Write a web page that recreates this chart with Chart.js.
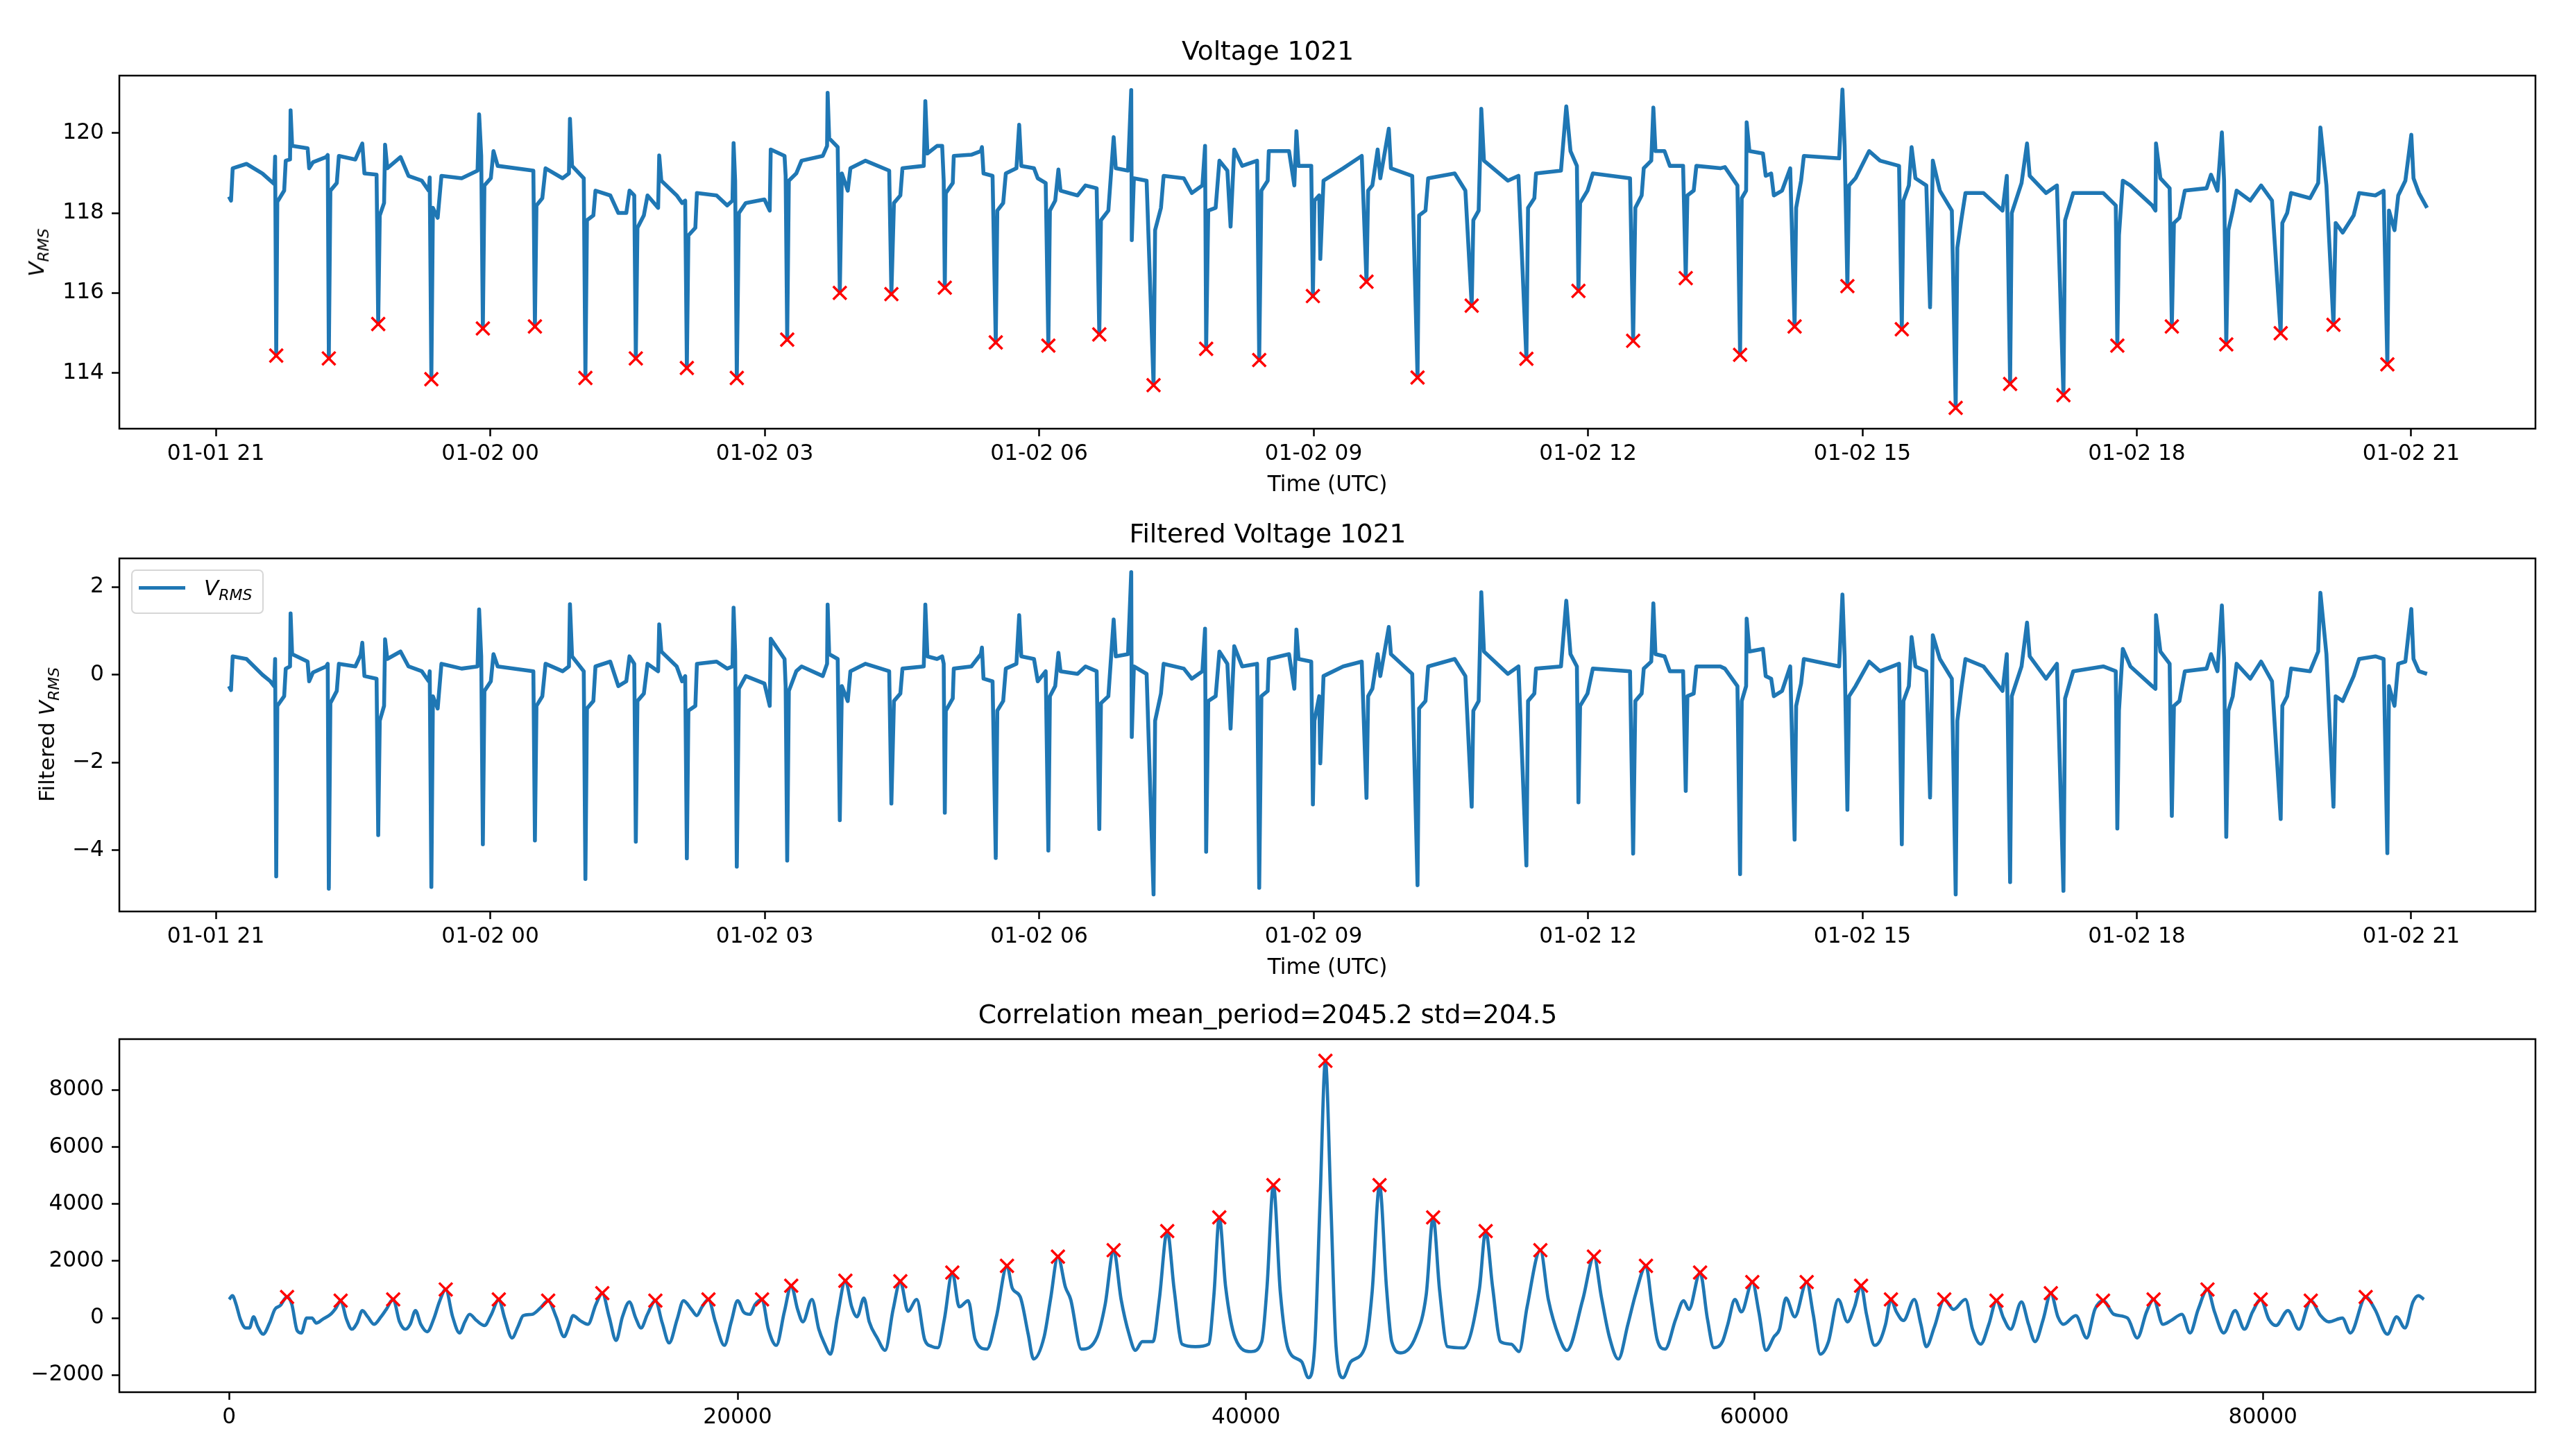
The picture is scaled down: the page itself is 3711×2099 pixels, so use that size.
<!DOCTYPE html>
<html>
<head>
<meta charset="utf-8">
<title>Voltage 1021</title>
<script src="https://cdn.jsdelivr.net/npm/chart.js@4.4.1/dist/chart.umd.min.js"></script>
<style>
    html, body { margin: 0; padding: 0; background: #ffffff; overflow: hidden; }
    #figure { position: relative; width: 3711px; height: 2099px; background: #ffffff; }
    #figure canvas { position: absolute; left: 0; top: 0; }
    .ylabel {
        position: absolute;
        transform: translate(-50%, -50%) rotate(-90deg);
        font-family: 'DejaVu Sans', sans-serif;
        font-size: 31px;
        color: #000;
        white-space: nowrap;
        z-index: 5;
    }
    .math { font-style: italic; }
    .math sub { font-size: 22px; vertical-align: -7px; line-height: 0; }
    #legend {
        position: absolute;
        left: 189px;
        top: 821px;
        width: 191px;
        height: 64px;
        box-sizing: border-box;
        border: 2px solid rgba(204, 204, 204, 0.8);
        border-radius: 7px;
        background: rgba(255, 255, 255, 0.8);
        z-index: 5;
    }
    #legend .swatch { position: absolute; left: 9px; top: 22px; width: 67px; height: 5px; background: #1f77b4; }
    #legend .label {
        position: absolute;
        left: 103px;
        top: 6px;
        font-family: 'DejaVu Sans', sans-serif;
        font-size: 31px;
        line-height: 37px;
        color: #000;
        white-space: nowrap;
    }
</style>
</head>
<body>
<div id="figure">
    <canvas id="voltage-chart" width="3711" height="2099"></canvas>
    <canvas id="filtered-chart" width="3711" height="2099"></canvas>
    <canvas id="corr-chart" width="3711" height="2099"></canvas>

    <div class="ylabel" style="left:52px; top:364px;"><span class="math">V<sub>RMS</sub></span></div>
    <div class="ylabel" style="left:67px; top:1059px;">Filtered <span class="math">V<sub>RMS</sub></span></div>
    <div id="legend">
        <div class="swatch"></div>
        <div class="label"><span class="math">V<sub>RMS</sub></span></div>
    </div>
</div>

<script>
// ---- time axis (hours counted from 01-01 00:00) ----
const timeTickHours = [21, 24, 27, 30, 33, 36, 39, 42, 45];
const timeTickLabels = ['01-01 21', '01-02 00', '01-02 03', '01-02 06', '01-02 09',
    '01-02 12', '01-02 15', '01-02 18', '01-02 21'];

const voltTicks = [114, 116, 118, 120];
const filteredTicks = [-4, -2, 0, 2];
const corrXTicks = [0, 20000, 40000, 60000, 80000];
const corrYTicks = [-2000, 0, 2000, 4000, 6000, 8000];

// sample times
const sampleHours = [
    21.143, 21.166, 21.184, 21.335, 21.509, 21.596, 21.637, 21.648, 21.660, 21.672,
    21.747, 21.764, 21.811, 21.817, 21.834, 22.003, 22.020, 22.061, 22.206, 22.223,
    22.235, 22.252, 22.322, 22.345, 22.525, 22.583, 22.601, 22.624, 22.757, 22.775,
    22.792, 22.839, 22.850, 22.874, 23.019, 23.106, 23.251, 23.327, 23.338, 23.356,
    23.373, 23.425, 23.466, 23.687, 23.861, 23.878, 23.901, 23.919, 23.936, 24.006,
    24.035, 24.081, 24.471, 24.488, 24.505, 24.569, 24.604, 24.790, 24.860, 24.871,
    24.894, 25.022, 25.040, 25.057, 25.127, 25.150, 25.312, 25.400, 25.487, 25.522,
    25.574, 25.591, 25.609, 25.679, 25.719, 25.835, 25.847, 25.870, 26.038, 26.097,
    26.131, 26.149, 26.166, 26.242, 26.259, 26.474, 26.590, 26.648, 26.660, 26.677,
    26.695, 26.718, 26.793, 26.997, 27.055, 27.066, 27.217, 27.229, 27.246, 27.264,
    27.345, 27.403, 27.635, 27.682, 27.688, 27.705, 27.798, 27.821, 27.844, 27.908,
    27.937, 28.100, 28.361, 28.385, 28.413, 28.483, 28.506, 28.739, 28.756, 28.779,
    28.884,
    28.940, 28.957, 28.969, 28.980, 29.056, 29.067, 29.259, 29.363, 29.375, 29.392,
    29.491, 29.526, 29.543, 29.607, 29.636, 29.752, 29.782, 29.805, 29.944, 29.985,
    30.072, 30.101, 30.118, 30.176, 30.211, 30.234, 30.420, 30.507, 30.629, 30.658,
    30.676, 30.757, 30.815, 30.838, 30.972, 31.007, 31.013, 31.036, 31.175, 31.251,
    31.268, 31.332, 31.361, 31.582, 31.669, 31.785, 31.814, 31.826, 31.849, 31.930,
    31.971, 32.058, 32.093, 32.133, 32.220, 32.383, 32.406, 32.430, 32.499, 32.511,
    32.732, 32.790, 32.813, 32.836, 32.975, 32.993, 33.010, 33.062, 33.074, 33.109,
    33.324, 33.527, 33.579, 33.597, 33.643, 33.701, 33.730, 33.823, 33.846, 34.079,
    34.137, 34.154, 34.224, 34.253, 34.543, 34.660, 34.729, 34.747, 34.805, 34.834,
    34.863, 35.124, 35.240, 35.327, 35.345, 35.414, 35.432, 35.705, 35.763, 35.809,
    35.879, 35.896, 35.914, 35.995, 36.053, 36.460, 36.494, 36.518, 36.587, 36.610,
    36.692, 36.715, 36.738, 36.837, 36.895, 37.040, 37.069, 37.087, 37.156, 37.185,
    37.447,
    37.497, 37.634, 37.663, 37.681, 37.729, 37.735, 37.765, 37.913, 37.943, 38.003,
    38.032, 38.122, 38.211, 38.259, 38.276, 38.330, 38.360, 38.746, 38.782, 38.806,
    38.836, 38.854, 38.925, 39.074, 39.193, 39.401, 39.431, 39.449, 39.508, 39.538,
    39.580, 39.699, 39.740, 39.770, 39.847, 39.978, 40.020, 40.038, 40.085, 40.127,
    40.324, 40.532, 40.579, 40.615, 40.633, 40.740, 40.800, 40.829, 41.008, 41.127,
    41.198, 41.216, 41.305, 41.633, 41.770, 41.787, 41.805, 41.847, 41.930, 42.168,
    42.204, 42.210, 42.258, 42.359, 42.383, 42.406, 42.466, 42.525, 42.763, 42.811,
    42.882, 42.930, 42.954, 42.978, 43.001, 43.049, 43.091, 43.240, 43.359, 43.478,
    43.573, 43.591, 43.644, 43.686, 43.894, 43.983, 44.007, 44.073, 44.150, 44.174,
    44.251, 44.371, 44.430, 44.608, 44.698, 44.739, 44.757, 44.817, 44.858, 44.936,
    45.001, 45.025, 45.084, 45.173,
];

const vrmsValues = [
    118.41, 118.31, 119.12, 119.23, 118.99, 118.81, 118.73, 119.41, 114.43, 118.28,
    118.56, 119.31, 119.34, 120.57, 119.68, 119.62, 119.12, 119.27, 119.40, 119.45,
    114.36, 118.56, 118.75, 119.43, 119.34, 119.65, 119.74, 118.99, 118.96, 115.22,
    117.94, 118.25, 119.71, 119.12, 119.40, 118.93, 118.81, 118.56, 118.89, 113.84,
    118.13, 117.88, 118.93, 118.87, 119.06, 120.47, 119.43, 115.11, 118.69, 118.87,
    119.55, 119.18, 119.06, 115.16, 118.19, 118.37, 119.12, 118.87, 118.99, 120.36,
    119.18, 118.87, 113.87, 117.82, 117.94, 118.56, 118.44, 118.00, 118.00, 118.56,
    118.44, 114.36, 117.63, 117.94, 118.44, 118.13, 119.44, 118.81, 118.44, 118.25,
    118.31, 114.12, 117.44, 117.63, 118.50, 118.44, 118.19, 118.31, 119.75, 118.81,
    113.87, 118.00, 118.25, 118.34, 118.06, 119.59, 119.43, 118.93, 114.83, 118.81,
    118.99, 119.31, 119.43, 119.68, 121.01, 119.87, 119.65, 116.00, 118.99, 118.56,
    119.12, 119.31, 119.06, 115.97, 118.25, 118.44, 119.12, 119.18, 120.80, 119.49,
    119.68,
    119.68, 118.81, 116.13, 118.50, 118.75, 119.43, 119.46, 119.55, 119.65, 118.99,
    118.93, 114.76, 118.06, 118.25, 118.99, 119.12, 120.21, 119.18, 119.12, 118.87,
    118.75, 114.68, 118.06, 118.31, 119.09, 118.56, 118.44, 118.69, 118.62, 114.96,
    117.82, 118.06, 119.90, 119.12, 119.06, 121.08, 117.32, 118.87, 118.81, 113.69,
    117.57, 118.13, 118.93, 118.87, 118.50, 118.69, 119.68, 114.60, 118.06, 118.13,
    119.31, 119.06, 117.66, 119.59, 119.18, 119.31, 114.32, 118.56, 118.81, 119.55,
    119.55, 118.69, 120.05, 119.18, 119.18, 115.92, 118.31, 118.44, 116.85, 118.81,
    119.12, 119.43, 116.28, 118.56, 118.69, 119.59, 118.87, 120.11, 119.12, 118.93,
    113.88, 117.94, 118.06, 118.87, 118.99, 118.56, 115.68, 117.82, 118.06, 120.61,
    119.31, 118.81, 118.93, 114.35, 118.13, 118.37, 118.99, 119.06, 120.67, 119.55,
    119.18, 116.05, 118.25, 118.56, 118.99, 118.87, 114.80, 118.13, 118.44, 119.12,
    119.31, 120.64, 119.55, 119.55, 119.18, 119.18, 116.37, 118.44, 118.56, 119.18,
    119.12,
    119.15, 118.69, 114.45, 118.37, 118.56, 120.27, 119.55, 119.49, 118.93, 118.99,
    118.44, 118.56, 119.12, 115.16, 118.13, 118.81, 119.43, 119.37, 121.09, 119.68,
    116.17, 118.69, 118.87, 119.55, 119.31, 119.18, 115.09, 118.31, 118.69, 119.65,
    118.87, 118.69, 115.64, 119.31, 118.56, 118.06, 113.12, 117.13, 117.88, 118.50,
    118.50, 118.06, 118.93, 113.72, 118.00, 118.75, 119.74, 118.93, 118.50, 118.69,
    113.44, 117.82, 118.50, 118.50, 118.19, 114.68, 117.44, 118.81, 118.69, 118.19,
    118.06, 119.74, 118.87, 118.62, 115.16, 117.75, 117.88, 118.56, 118.62, 118.96,
    118.56, 120.02, 118.81, 114.71, 117.57, 118.06, 118.56, 118.31, 118.69, 118.31,
    114.99, 117.75, 118.00, 118.50, 118.37, 118.75, 120.14, 118.69, 115.20, 117.75,
    117.51, 117.94, 118.50, 118.44, 118.56, 114.21, 118.06, 117.57, 118.44, 118.81,
    119.96, 118.87, 118.50, 118.13,
];

const filteredValues = [
    -0.26, -0.35, 0.42, 0.36, 0.00, -0.15, -0.26, 0.36, -4.60, -0.71,
    -0.49, 0.14, 0.19, 1.40, 0.47, 0.30, -0.15, 0.05, 0.19, 0.25,
    -4.88, -0.65, -0.37, 0.25, 0.19, 0.45, 0.73, -0.03, -0.09, -3.66,
    -1.05, -0.71, 0.81, 0.36, 0.53, 0.19, 0.08, -0.15, 0.08, -4.84,
    -0.49, -0.77, 0.25, 0.14, 0.19, 1.49, 0.42, -3.87, -0.37, -0.15,
    0.47, 0.19, 0.08, -3.78, -0.71, -0.49, 0.25, 0.08, 0.19, 1.61,
    0.42, 0.08, -4.66, -0.77, -0.60, 0.19, 0.30, -0.26, -0.15, 0.42,
    0.25, -3.81, -0.60, -0.43, 0.25, 0.08, 1.15, 0.53, 0.19, -0.15,
    -0.03, -4.19, -0.82, -0.71, 0.25, 0.30, 0.14, 0.19, 1.53, 0.53,
    -4.38, -0.32, -0.03, -0.20, -0.71, 0.82, 0.36, -0.26, -4.24, -0.37,
    0.08, 0.19, -0.03, 0.25, 1.60, 0.47, 0.36, -3.32, -0.26, -0.60,
    0.08, 0.25, 0.08, -2.94, -0.60, -0.43, 0.14, 0.19, 1.60, 0.42,
    0.36,
    0.42, 0.25, -3.15, -0.82, -0.54, 0.14, 0.19, 0.47, 0.62, -0.09,
    -0.15, -4.18, -0.82, -0.60, 0.14, 0.25, 1.36, 0.42, 0.36, -0.15,
    0.08, -4.01, -0.49, -0.26, 0.50, 0.08, 0.02, 0.19, 0.08, -3.52,
    -0.65, -0.49, 1.26, 0.42, 0.47, 2.34, -1.42, 0.19, 0.02, -5.01,
    -1.05, -0.43, 0.25, 0.14, -0.09, 0.08, 1.05, -4.04, -0.60, -0.49,
    0.53, 0.25, -1.23, 0.65, 0.19, 0.25, -4.86, -0.49, -0.37, 0.36,
    0.47, -0.32, 1.03, 0.36, 0.30, -2.96, -1.05, -0.49, -2.02, -0.03,
    0.19, 0.30, -2.81, -0.49, -0.32, 0.47, -0.03, 1.09, 0.47, 0.02,
    -4.80, -0.77, -0.60, 0.19, 0.36, -0.03, -3.01, -0.82, -0.60, 1.88,
    0.53, 0.02, 0.19, -4.35, -0.60, -0.43, 0.14, 0.19, 1.69, 0.47,
    0.19, -2.91, -0.71, -0.43, 0.14, 0.08, -4.08, -0.60, -0.43, 0.14,
    0.30, 1.63, 0.47, 0.42, 0.08, 0.08, -2.65, -0.49, -0.43, 0.19,
    0.19,
    0.14, -0.26, -4.55, -0.60, -0.26, 1.28, 0.53, 0.59, -0.03, -0.09,
    -0.49, -0.37, 0.19, -3.76, -0.71, -0.20, 0.36, 0.19, 1.83, 0.42,
    -3.08, -0.49, -0.26, 0.30, 0.08, 0.25, -3.87, -0.60, -0.26, 0.86,
    0.19, 0.08, -2.80, 0.90, 0.36, -0.09, -5.01, -1.05, -0.26, 0.36,
    0.19, -0.37, 0.47, -4.73, -0.49, 0.19, 1.19, 0.42, -0.09, 0.25,
    -4.93, -0.54, 0.08, 0.19, 0.08, -3.51, -0.82, 0.59, 0.19, -0.26,
    -0.32, 1.36, 0.53, 0.25, -3.22, -0.71, -0.60, 0.08, 0.14, 0.47,
    0.08, 1.58, 0.36, -3.70, -0.82, -0.49, 0.25, -0.09, 0.30, -0.15,
    -3.29, -0.71, -0.49, 0.14, 0.08, 0.53, 1.87, 0.47, -3.01, -0.49,
    -0.60, -0.03, 0.36, 0.42, 0.36, -4.07, -0.26, -0.71, 0.25, 0.30,
    1.50, 0.36, 0.08, 0.02,
];

// detected dips (red markers on the top panel)
const dipHours = [
    21.660, 22.235, 22.775, 23.356, 23.919, 24.488, 25.040, 25.591, 26.149, 26.695,
    27.246, 27.821, 28.385, 28.969, 29.526, 30.101, 30.658, 31.251, 31.826, 32.406,
    32.993, 33.579, 34.137, 34.729, 35.327, 35.896, 36.494, 37.069, 37.663, 38.259,
    38.836, 39.431, 40.020, 40.615, 41.198, 41.787, 42.383, 42.978, 43.573, 44.150,
    44.739,
];
const dipVolts = [
    114.43, 114.36, 115.22, 113.84, 115.11, 115.16, 113.87, 114.36, 114.12, 113.87,
    114.83, 116.00, 115.97, 116.13, 114.76, 114.68, 114.96, 113.69, 114.60, 114.32,
    115.92, 116.28, 113.88, 115.68, 114.35, 116.05, 114.80, 116.37, 114.45, 115.16,
    116.17, 115.09, 113.12, 113.72, 113.44, 114.68, 115.16, 114.71, 114.99, 115.20,
    114.21,
];

// autocorrelation trace
const corrLags = [
    0, 127, 273, 440, 648, 795, 961, 1128, 1337, 1588,
    1797, 2006, 2277, 2465, 2673, 2840, 3049, 3258, 3425, 3675,
    3988, 4197, 4385, 4615, 4824, 5032, 5241, 5450, 5700, 5972,
    6180, 6452, 6702, 6932, 7120, 7329, 7537, 7788, 8059, 8268,
    8519, 8790, 9062, 9270, 9458, 9730, 10043, 10314, 10606, 10836,
    11128, 11358, 11567, 11921, 12235, 12548, 12861, 13174, 13341, 13529,
    13801, 14113, 14426, 14677, 14948, 15220, 15470, 15742, 15992, 16201,
    16452, 16765, 17036, 17307, 17621, 17871, 18184, 18393, 18602, 18853,
    19124, 19479, 19750, 20000, 20230, 20481, 20690, 20961, 21211, 21524,
    21838, 22109, 22359, 22568, 22923, 23195, 23404, 23654, 23925, 24239,
    24489, 24698, 24969, 25178, 25491, 25804, 26118, 26400, 26700, 27047,
    27360, 27650, 27880, 28133, 28446, 28717, 29072, 29344, 29803, 30179,
    30596, 30805, 31118, 31431, 31640, 32058, 32308, 32600, 32893, 33101,
    33519, 34145, 34459, 34792, 35085, 35398, 35648, 35920, 36337, 36588,
    36900, 37172, 37486, 38007, 38529, 38738, 38947, 39197, 39573, 40198,
    40616, 40825, 41076, 41347, 41660, 42183, 42454, 42705, 42913, 43122,
    43331, 43540, 43812, 44125, 44688, 44960, 45251, 45523, 45731, 46086,
    46671, 47088, 47360, 47610, 47924, 48550, 49177, 49426, 49698, 50011,
    50429, 50741, 51055, 51577, 51890, 52308, 52621, 53247, 53685, 53977,
    54290, 54645, 55021, 55334, 55731, 55960, 56169, 56482, 56900, 57213,
    57421, 57860, 58152, 58400, 58738, 58951, 59230, 59486, 59914, 60171,
    60449, 60770, 60984, 61240, 61583, 62053, 62310, 62588, 62909, 63294,
    63657, 63935, 64192, 64406, 64727, 64942, 65155, 65368, 65582, 65860,
    66288, 66545, 66759, 67080, 67465, 67829, 68299, 68577, 68898, 69219,
    69518, 69796, 70074, 70502, 70780, 71037, 71358, 71657, 71935, 72149,
    72641, 73068, 73390, 73711, 74139, 74673, 75058, 75422, 75700, 76064,
    76384, 76812, 77133, 77454, 77818, 78096, 78459, 78908, 79272, 79593,
    79914, 80235, 80513, 80983, 81411, 81882, 82267, 82588, 83123, 83443,
    84042, 84406, 84898, 85262, 85583, 85904, 86118, 86332,
];
const corrValues = [
    654, 785, 480, -43, -348, -348, 44, -305, -567, -174,
    305, 437, 741, 480, -436, -523, 0, 0, -174, -43,
    131, 349, 611, -43, -392, -174, 262, 44, -218, 44,
    305, 654, -131, -392, -218, 262, -218, -479, 0, 567,
    1003, 44, -523, -131, 131, -87, -261, 131, 654, 0,
    -697, -305, 87, 131, 349, 611, 44, -654, -348, 87,
    -87, -218, 480, 872, 44, -784, 44, 567, 0, -348,
    131, 611, -174, -871, -43, 611, 305, 87, 393, 654,
    -131, -958, -131, 611, 218, 131, 480, 654, -392, -958,
    218, 1134, 305, -131, 654, -392, -871, -1264, 44, 1308,
    393, 44, 698, -131, -697, -1133, 305, 1290, 240, 654,
    -760, -1000, -1040, -43, 1596, 393, 611, -741, -1089, 44,
    1831, 1047, 741, -567, -1438, -654, 654, 2154, 1090, 654,
    -1089, -654, 480, 2380, 654, -567, -1133, -828, -828, 654,
    3052, 1003, -915, -1002, -915, 829, 3531, 1090, -697, -1176,
    -828, 1090, 4664, 916, -1089, -1525, -2092, -915, 4141, 9023,
    4141, -1002, -2092, -1525, -1002, 916, 4664, 1090, -828, -1220,
    -654, 829, 3531, 1003, -1002, -1046, 1003, 3052, 1090, -828,
    -915, -1176, 393, 2380, 654, -654, -1133, 654, 2154, 741,
    -654, -1438, -218, 872, 1831, 480, -741, -1089, -43, 611,
    305, 1596, -43, -1040, -828, -218, 654, 218, 1264, 218,
    -1133, -654, -392, 698, 44, 1264, 131, -1264, -828, 654,
    -131, 393, 1134, 131, -958, -784, -218, 654, 218, -87,
    654, -218, -1002, -305, 654, 305, 654, -392, -915, -218,
    611, 0, -392, 567, -218, -828, -43, 872, 44, -218,
    87, -697, 305, 611, 131, 0, -697, 218, 654, -218,
    -87, 131, -523, 305, 1003, 218, -523, 262, -392, 218,
    654, -43, -261, 262, -392, 611, 87, -131, 0, -523,
    741, 305, -567, 44, -348, 567, 785, 654,
];

// detected correlation peaks (red markers on the bottom panel)
const corrPeakLags = [
    2277, 4385, 6452, 8519, 10606, 12548, 14677, 16765, 18853, 20961,
    22109, 24239, 26400, 28446, 30596, 32600, 34792, 36900, 38947, 41076,
    43122, 45251, 47360, 49426, 51577, 53685, 55731, 57860, 59914, 62053,
    64192, 65368, 67465, 69518, 71657, 73711, 75700, 77818, 79914, 81882,
    84042,
];
const corrPeakValues = [
    741, 611, 654, 1003, 654, 611, 872, 611, 654, 654,
    1134, 1308, 1290, 1596, 1831, 2154, 2380, 3052, 3531, 4664,
    9023, 4664, 3531, 3052, 2380, 2154, 1831, 1596, 1264, 1264,
    1134, 654, 654, 611, 872, 611, 654, 1003, 654, 611,
    741,
];

if (sampleHours.length !== vrmsValues.length || sampleHours.length !== filteredValues.length) {
    console.warn('sample arrays differ', sampleHours.length, vrmsValues.length, filteredValues.length);
}
if (corrLags.length !== corrValues.length) {
    console.warn('corr arrays differ', corrLags.length, corrValues.length);
}

const FIG_W = 3711;
const FIG_H = 2099;
const AXES_RIGHT = 3654;
const BLUE = '#1f77b4';

Chart.defaults.font.family = "'DejaVu Sans', sans-serif";
Chart.defaults.font.size = 31.25;
Chart.defaults.color = '#000';

// black box round the plot area, like the matplotlib spines
const framePlugin = {
    id: 'frame',
    afterDraw(chart) {
        const { ctx, chartArea } = chart;
        ctx.save();
        ctx.strokeStyle = '#000';
        ctx.lineWidth = 2.5;
        ctx.strokeRect(chartArea.left, chartArea.top,
            chartArea.right - chartArea.left, chartArea.bottom - chartArea.top);
        ctx.restore();
    }
};

function minusLabel(value) {
    return value < 0 ? '\u2212' + Math.abs(value) : String(value);
}

function tickMarks() {
    return {
        display: true,
        drawOnChartArea: false,
        drawTicks: true,
        tickLength: 11,
        tickWidth: 2.5,
        tickColor: '#000',
    };
}

function toPoints(xs, ys) {
    return xs.map((x, i) => ({ x, y: ys[i] }));
}

function makePanel(canvasId, panel) {
    const datasets = [{
        data: toPoints(panel.lineX, panel.lineY),
        showLine: true,
        borderColor: BLUE,
        borderWidth: panel.lineWidth,
        borderJoinStyle: 'round',
        cubicInterpolationMode: panel.smooth ? 'monotone' : 'default',
        tension: 0,
        pointRadius: 0,
        pointHoverRadius: 0,
        fill: false,
        order: 1,
    }];

    if (panel.markX) {
        datasets.push({
            data: toPoints(panel.markX, panel.markY),
            showLine: false,
            pointStyle: 'crossRot',
            pointRadius: 13.5,
            pointBorderWidth: 3.5,
            pointBorderColor: '#ff0000',
            pointBackgroundColor: '#ff0000',
            order: 0,
        });
    }

    return new Chart(document.getElementById(canvasId), {
        type: 'scatter',
        data: { datasets },
        options: {
            responsive: false,
            animation: false,
            devicePixelRatio: 1,
            events: [],
            layout: {
                padding: {
                    left: 0,
                    right: FIG_W - AXES_RIGHT,
                    top: panel.areaTop - 109,
                    bottom: FIG_H - panel.areaBottom - panel.xAxisHeight,
                }
            },
            plugins: {
                legend: { display: false },
                tooltip: { enabled: false },
                title: {
                    display: true,
                    text: panel.title,
                    color: '#000',
                    font: { size: 37.5, weight: 'normal' },
                    padding: { top: 53.5, bottom: 10.5 },
                },
            },
            scales: {
                x: {
                    type: 'linear',
                    min: panel.xMin,
                    max: panel.xMax,
                    afterFit: (scale) => { scale.height = panel.xAxisHeight; },
                    afterBuildTicks: (scale) => {
                        scale.ticks = panel.xTicks.map(v => ({ value: v }));
                    },
                    ticks: {
                        autoSkip: false,
                        maxRotation: 0,
                        minRotation: 0,
                        padding: 7,
                        callback: panel.xLabel,
                    },
                    grid: tickMarks(),
                    border: { display: false },
                    title: {
                        display: !!panel.xTitle,
                        text: panel.xTitle || '',
                        color: '#000',
                        padding: { top: 0, bottom: 9 },
                    },
                },
                y: {
                    type: 'linear',
                    min: panel.yMin,
                    max: panel.yMax,
                    afterFit: (scale) => { scale.width = 172; },
                    afterBuildTicks: (scale) => {
                        scale.ticks = panel.yTicks.map(v => ({ value: v }));
                    },
                    ticks: {
                        padding: 11,
                        callback: (v) => minusLabel(v),
                    },
                    grid: tickMarks(),
                    border: { display: false },
                },
            },
        },
        plugins: [framePlugin],
    });
}

const hourLabel = (v, i) => timeTickLabels[i];

makePanel('voltage-chart', {
    title: 'Voltage 1021',
    areaTop: 109,
    areaBottom: 618,
    xAxisHeight: 110,
    xMin: 19.945,
    xMax: 46.358,
    xTicks: timeTickHours,
    xLabel: hourLabel,
    xTitle: 'Time (UTC)',
    yMin: 112.6,
    yMax: 121.44,
    yTicks: voltTicks,
    lineX: sampleHours,
    lineY: vrmsValues,
    lineWidth: 5.6,
    markX: dipHours,
    markY: dipVolts,
});

makePanel('filtered-chart', {
    title: 'Filtered Voltage 1021',
    areaTop: 805,
    areaBottom: 1314,
    xAxisHeight: 110,
    xMin: 19.945,
    xMax: 46.358,
    xTicks: timeTickHours,
    xLabel: hourLabel,
    xTitle: 'Time (UTC)',
    yMin: -5.4,
    yMax: 2.654,
    yTicks: filteredTicks,
    lineX: sampleHours,
    lineY: filteredValues,
    lineWidth: 5.6,
});

makePanel('corr-chart', {
    title: 'Correlation mean_period=2045.2 std=204.5',
    areaTop: 1498,
    areaBottom: 2007,
    xAxisHeight: 80,
    xMin: -4320,
    xMax: 90720,
    xTicks: corrXTicks,
    xLabel: (v) => String(v),
    yMin: -2600,
    yMax: 9785,
    yTicks: corrYTicks,
    lineX: corrLags,
    lineY: corrValues,
    lineWidth: 4.7,
    smooth: true,
    markX: corrPeakLags,
    markY: corrPeakValues,
});
</script>
</body>
</html>
